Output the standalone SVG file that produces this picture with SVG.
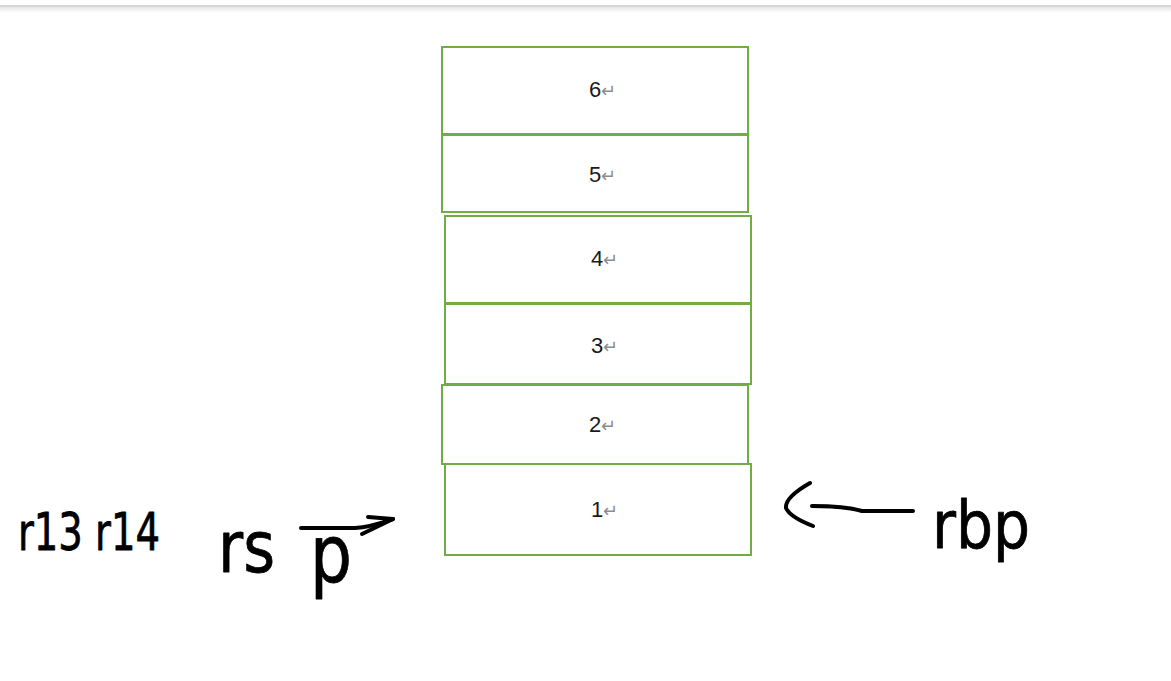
<svg xmlns="http://www.w3.org/2000/svg" width="1171" height="681" viewBox="0 0 1171 681">
<defs>
<linearGradient id="shadow" x1="0" y1="0" x2="0" y2="1">
<stop offset="0" stop-color="#e6e6e6"/>
<stop offset="1" stop-color="#ffffff"/>
</linearGradient>
</defs>
<style>
.box{fill:#fff;stroke:#70ad47;stroke-width:2}
.lbl{font-family:"Liberation Sans",Arial,sans-serif;font-size:22px;fill:#1a1a1a}
.ret{fill:#8c8c8c;font-size:18px}
.hand{font-family:"DejaVu Sans","Liberation Sans",sans-serif;fill:#000;stroke:#000;stroke-width:0.8;stroke-linejoin:round}
.pen{fill:none;stroke:#000;stroke-width:4;stroke-linecap:round;stroke-linejoin:round}
</style>
<rect width="1171" height="681" fill="#fff"/>
<rect x="0" y="5" width="1171" height="2" fill="#d6d6d6"/>
<rect x="0" y="7" width="1171" height="6" fill="url(#shadow)"/>

<g id="node6"><rect class="box" x="442" y="47" width="306" height="87"/><text class="lbl" x="589" y="97">6<tspan class="ret">↵</tspan></text></g>
<g id="node5"><rect class="box" x="442" y="135" width="306" height="77"/><text class="lbl" x="589" y="182">5<tspan class="ret">↵</tspan></text></g>
<g id="node4"><rect class="box" x="445" y="216" width="306" height="87"/><text class="lbl" x="591" y="266">4<tspan class="ret">↵</tspan></text></g>
<g id="node3"><rect class="box" x="445" y="304" width="306" height="80"/><text class="lbl" x="591" y="353">3<tspan class="ret">↵</tspan></text></g>
<g id="node2"><rect class="box" x="442" y="385" width="306" height="79"/><text class="lbl" x="589" y="432">2<tspan class="ret">↵</tspan></text></g>
<g id="node1"><rect class="box" x="445" y="464" width="306" height="91"/><text class="lbl" x="591" y="517">1<tspan class="ret">↵</tspan></text></g>

<g id="label-r13-r14"><text class="hand" x="18" y="550" font-size="52" textLength="142" lengthAdjust="spacingAndGlyphs">r13 r14</text></g>
<g id="label-rsp">
<text class="hand" x="218" y="572" font-size="72" textLength="57" lengthAdjust="spacingAndGlyphs">rs</text>
<text class="hand" x="310" y="582" font-size="80" textLength="42" lengthAdjust="spacingAndGlyphs">p</text>
</g>
<g id="label-rbp"><text class="hand" x="932" y="548" font-size="66" textLength="98" lengthAdjust="spacingAndGlyphs">rbp</text></g>

<g id="connectors">
<path class="pen" d="M301,528 L355,528 C372,527 384,522 393,519"/>
<path class="pen" d="M368,517 L393,519 L362,534"/>
<path class="pen" d="M913,511 L862,511 C848,507 832,506 812,506"/>
<path class="pen" d="M810,483 C796,491 785,500 786,508 C789,515 800,521 813,526"/>
</g>
</svg>
